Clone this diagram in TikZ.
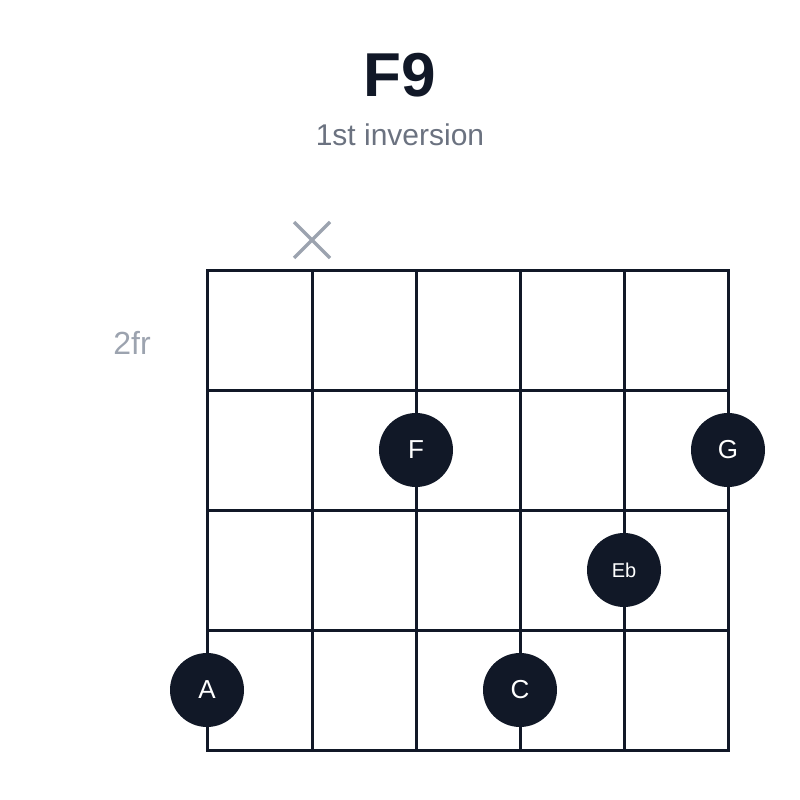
\documentclass[tikz,border=0pt]{standalone}
\usepackage{fontspec}
\setmainfont{Liberation Sans}
\usetikzlibrary{calc}
\definecolor{dk}{HTML}{111827}
\definecolor{gr}{HTML}{9CA3AF}
\definecolor{sub}{HTML}{6B7280}
\begin{document}
\begin{tikzpicture}[x=1pt,y=-1pt,
  dot/.style={circle,fill=dk,minimum size=74pt,inner sep=0pt,text=white,font=\fontsize{26}{26}\selectfont},
  sdot/.style={dot,font=\fontsize{20}{20}\selectfont}]
\useasboundingbox (0,0) rectangle (800,800);
\node[font=\fontsize{62}{62}\selectfont\bfseries,text=dk] (title) at (400,75) {F9};
\node[font=\fontsize{30}{30}\selectfont,text=sub] (sub) at (400,135) {1st inversion};
\node[font=\fontsize{32}{32}\selectfont,text=gr] (fr) at (132,343) {2fr};
\foreach \x in {207,312,416,520,624,728} \draw[dk,line width=3pt] (\x,270) -- (\x,750);
\foreach \y in {270,390,510,630,750} \draw[dk,line width=3pt,line cap=rect] (207,\y) -- (728,\y);
\coordinate (xm) at (312,240);
\draw[gr,line width=3.5pt] ($(xm)+(-18,-18)$) -- ($(xm)+(18,18)$) ($(xm)+(-18,18)$) -- ($(xm)+(18,-18)$);
\node[dot] (F) at (416,450) {F};
\node[dot] (G) at (728,450) {G};
\node[sdot] (Eb) at (624,570) {Eb};
\node[dot] (A) at (207,690) {A};
\node[dot] (C) at (520,690) {C};
\end{tikzpicture}
\end{document}
